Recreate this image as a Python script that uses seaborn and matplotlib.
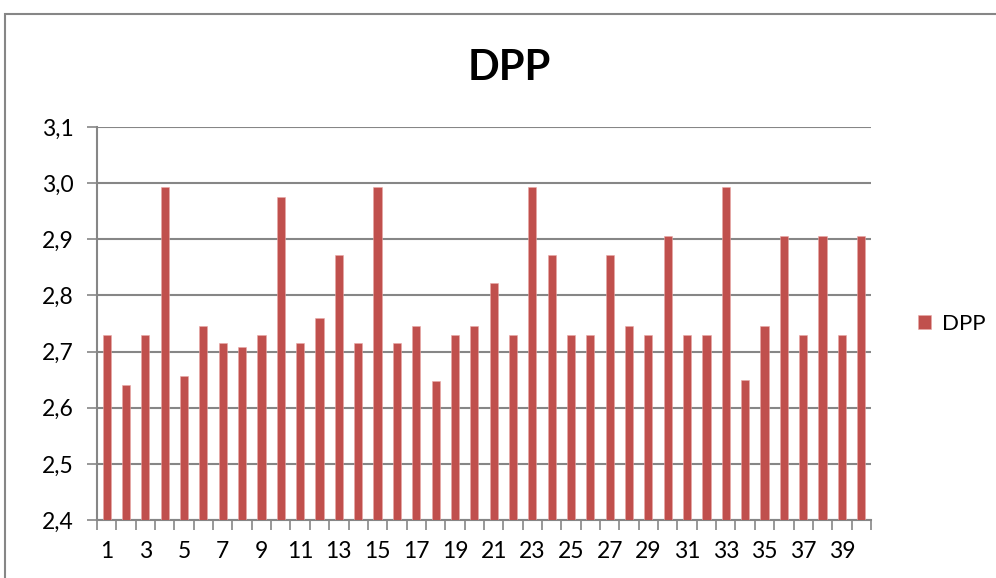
import numpy as np
import pandas as pd
import seaborn as sns
import matplotlib.pyplot as plt
from matplotlib.patches import Rectangle
from matplotlib.ticker import FuncFormatter, FixedLocator

categories = list(range(1, 41))
dpp = [2.730, 2.640, 2.730, 2.993, 2.657, 2.745, 2.715, 2.709, 2.730, 2.975,
       2.715, 2.760, 2.872, 2.715, 2.993, 2.715, 2.745, 2.647, 2.730, 2.745,
       2.822, 2.730, 2.993, 2.872, 2.730, 2.730, 2.872, 2.745, 2.730, 2.905,
       2.730, 2.730, 2.993, 2.649, 2.745, 2.905, 2.730, 2.905, 2.730, 2.905]
y_ticks = [2.4, 2.5, 2.6, 2.7, 2.8, 2.9, 3.0, 3.1]

sns.set_style('white')
plt.rcParams['font.family'] = ['Lato', 'DejaVu Sans']
plt.rcParams['text.color'] = 'black'
plt.rcParams['xtick.labelcolor'] = 'black'
plt.rcParams['ytick.labelcolor'] = 'black'

grey = '#868686'
bar_color = '#C0504D'

df = pd.DataFrame({'n': categories, 'DPP': dpp})

fig = plt.figure(figsize=(9.96, 5.78), dpi=100)
ax = fig.add_axes([0.0974, 0.1003, 0.777, 0.68])

sns.barplot(data=df, x='n', y='DPP', color=bar_color, width=0.42,
            saturation=1, label='DPP', ax=ax, zorder=3,
            edgecolor='#E8A8A6', linewidth=0.4)

ax.set_ylim(2.4, 3.1)
ax.set_xlim(-0.5, len(categories) - 0.5)
ax.yaxis.set_major_locator(FixedLocator(y_ticks))
ax.yaxis.set_major_formatter(FuncFormatter(lambda v, p: f'{v:.1f}'.replace('.', ',')))
ax.yaxis.grid(True, color=grey, linewidth=1.5, zorder=0)
ax.set_axisbelow(True)

ax.set_xticks(range(0, len(categories), 2))
ax.set_xticklabels([str(c) for c in categories[::2]])
ax.set_xticks(np.arange(-0.5, len(categories), 1), minor=True)
ax.tick_params(axis='x', which='major', length=0, pad=15, labelsize=16.5, labelcolor='black')
ax.tick_params(axis='x', which='minor', length=7, width=1.2, color=grey, direction='out', bottom=True)
ax.tick_params(axis='y', which='major', length=7, width=1.2, color=grey, direction='out',
               left=True, labelsize=16.5, pad=10, labelcolor='black')

for s in ['top', 'right']:
    ax.spines[s].set_visible(False)
for s in ['left', 'bottom']:
    ax.spines[s].set_color(grey)
    ax.spines[s].set_linewidth(1.5)

ax.set_xlabel('')
ax.set_ylabel('')

ax.legend(loc='center left', bbox_to_anchor=(1.035, 0.5), frameon=False,
          fontsize=16, handlelength=0.6, handleheight=0.6, handletextpad=0.5,
          labelcolor='black')

fig.text(0.511, 0.882, 'DPP', ha='center', va='center', fontsize=30,
         fontweight='bold', color='black')

fig.patches.append(Rectangle((5 / 996, -0.1), 1.2, 1 - 14 / 578 + 0.1,
                             transform=fig.transFigure, fill=False,
                             edgecolor=grey, linewidth=1.5))

fig.savefig('out.png', dpi=100)
